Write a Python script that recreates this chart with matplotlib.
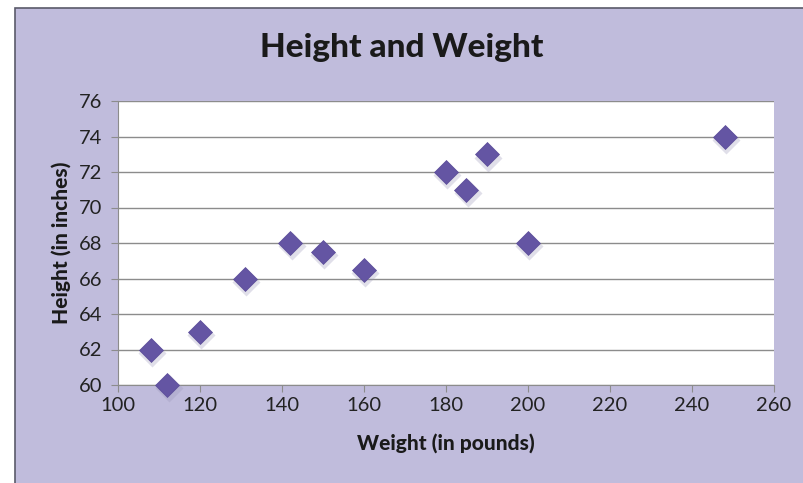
import matplotlib.pyplot as plt
import matplotlib.transforms as mtransforms
from matplotlib.patches import Rectangle

weight = [108, 112, 120, 131, 142, 150, 160, 180, 185, 190, 200, 248]
height = [62, 60, 63, 66, 68, 67.5, 66.5, 72, 71, 73, 68, 74]
x_ticks = list(range(100, 261, 20))
y_ticks = list(range(60, 77, 2))

plt.rcParams['font.family'] = ['Lato', 'DejaVu Sans']

fig = plt.figure(figsize=(8.04, 4.83), dpi=100)
fig.patch.set_facecolor('white')
fig.patches.append(Rectangle((15 / 804, -0.01), 1.0, 1 - 8 / 483 + 0.01,
                             transform=fig.transFigure, facecolor='#c0bcdc',
                             edgecolor='#5a5a6a', linewidth=1.2, zorder=-10))

ax = fig.add_axes([118 / 804, 1 - 385 / 483, 656 / 804, 284 / 483])
ax.set_facecolor('white')

# soft shadow under markers
shadow = mtransforms.offset_copy(ax.transData, fig=fig, x=1.0, y=-2.5, units='points')
ax.plot(weight, height, 'D', ms=14, color='#9a96b8', alpha=0.3, mec='none',
        transform=shadow, zorder=3, clip_on=False)
ax.plot(weight, height, 'D', ms=12.5, color='#6455a3', mec='#5a4c98', mew=0.5,
        zorder=4, clip_on=False)

ax.set_xlim(100, 260)
ax.set_ylim(60, 76)
ax.set_xticks(x_ticks)
ax.set_yticks(y_ticks)
ax.tick_params(labelsize=14.5, length=5, color='#8c8c8c', colors='#222222')
ax.tick_params(axis='y', pad=6)
ax.grid(axis='y', color='#8c8c8c', linewidth=1)
ax.set_axisbelow(True)
for s in ['top', 'right']:
    ax.spines[s].set_visible(False)
for s in ['left', 'bottom']:
    ax.spines[s].set_color('#8c8c8c')

ax.set_xlabel('Weight (in pounds)', fontsize=15, fontweight='black', labelpad=14,
              color='#1a1a1a')
ax.set_ylabel('Height (in inches)', fontsize=15, fontweight='black', labelpad=6,
              color='#1a1a1a')
fig.text(0.5, 1 - 47 / 483, 'Height and Weight', ha='center', va='center',
         fontsize=24, fontweight='black', color='#1a1a1a')

fig.savefig('out.png', dpi=100, facecolor=fig.get_facecolor())
